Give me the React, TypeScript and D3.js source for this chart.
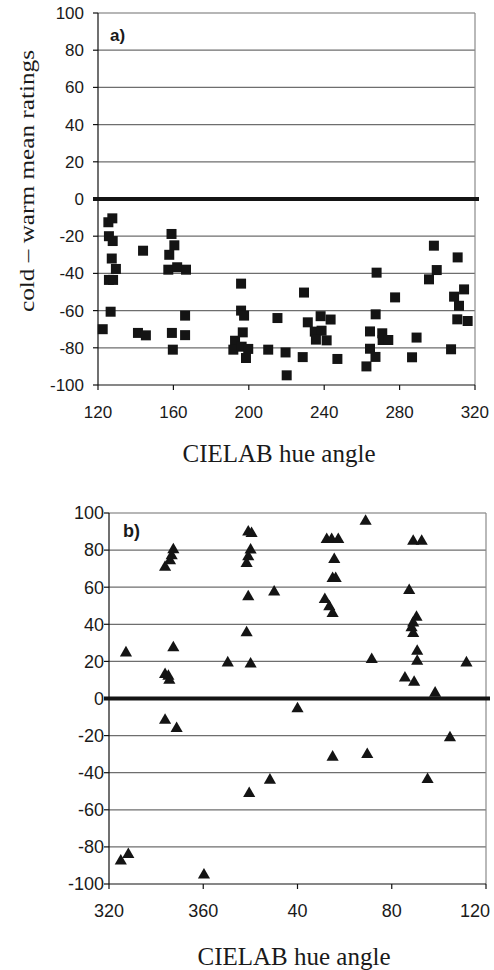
import React from "react";
import * as d3 from "d3";

// Panel a: CIELAB hue angle vs cold–warm mean rating (squares)
const hueA = [122.5,125.5,127.6,125.8,127.8,127.3,129.5,125.8,128,126.7,143.9,141.2,145.4,159,160.5,157.8,157.3,162,166.7,166.2,159.2,166.2,159.7,195.9,195.9,197.5,196.8,192.7,191.8,196.2,199.7,198.5,210.3,215.2,219.5,220.1,228.6,229.3,231.3,235,238.6,235.6,241.3,238.1,243.4,247,262.4,264.3,264.3,267.2,267.3,267.8,270.8,271,274,277.6,286.6,289,295.6,298.2,299.7,307.3,308.9,310.8,311.5,310.6,314.2,316.1];
const ratingA = [-70,-12.5,-10.4,-20,-22.6,-32,-37.6,-43.5,-43.5,-60.6,-27.8,-72,-73.3,-18.8,-24.9,-30,-38,-36.7,-38,-62.7,-72,-73.2,-81,-45.5,-60,-62.7,-71.7,-76.2,-81,-79.4,-80.6,-85.5,-81,-64,-82.5,-94.8,-85,-50.3,-66.3,-71.3,-70.8,-75.6,-76,-63,-64.8,-86,-90,-71.2,-80.5,-84.9,-62,-39.6,-72.2,-75.8,-75.8,-52.9,-85.1,-74.5,-43.2,-25.1,-38.2,-80.8,-52.5,-31.4,-57.4,-64.7,-48.6,-65.6];

// Panel b: hue angle unwrapped past 360 (400 = 40°, ...) (triangles)
const hueB = [327.2,325,328.2,343.8,345.9,346.6,347.3,347.3,343.8,345.2,345.6,343.8,348.7,360.3,370.4,379.1,380.5,380.1,379.1,378.4,379.1,378.4,380.1,379.5,388.3,390.1,400,411.6,412.4,414.5,417.3,415.6,414.9,416.2,413.5,414.9,414.9,428.9,431.5,429.6,445.6,447.4,449.1,452.7,450.5,449.1,448.4,449.1,450.8,450.8,449.5,455.2,458.4,464.7,471.7];
const ratingB = [24.6,-87.6,-84.1,70.7,74.3,77,80.2,27.3,12.9,12,9.9,-11.7,-16.2,-95.2,19.2,89.7,89,80,76.4,72.8,54.8,35.4,18.6,-51.2,-44,57.4,-5.5,53.4,85.7,85.7,85.7,74.9,64.7,64.7,49.4,45.8,-31.6,95.6,21,-30.2,11.1,58.2,84.8,84.8,43.8,40.7,38.1,35,25.5,20.1,8.8,-43.7,2.9,-21.2,19.2];

const yTicks = [100, 80, 60, 40, 20, 0, -20, -40, -60, -80, -100];
const xTicksA = [120, 160, 200, 240, 280, 320];
const xTickLabelsA = ["120", "160", "200", "240", "280", "320"];
const xTicksB = [320, 360, 400, 440, 480];
const xTickLabelsB = ["320", "360", "40", "80", "120"];

const yAxisTitle = "cold – warm mean ratings";
const xAxisTitle = "CIELAB hue angle";

type PanelProps = {
  label: string;
  hue: number[];
  rating: number[];
  xDomain: [number, number];
  xRange: [number, number];
  yRange: [number, number];
  xTicks: number[];
  xTickLabels: string[];
  symbol: d3.SymbolType;
  symbolSize: number;
  fontSize: number;
  yLabelX: number;
  titleY: number;
  titleX: number;
  labelPos: [number, number];
  maxLabelX: number;
};

function Panel(p: PanelProps) {
  const x = d3.scaleLinear().domain(p.xDomain).range(p.xRange);
  const y = d3.scaleLinear().domain([-100, 100]).range(p.yRange);
  const [x0, x1] = p.xRange;
  const [yb, yt] = p.yRange;
  const sym = d3.symbol().type(p.symbol).size(p.symbolSize)() as string;
  const font = "'Liberation Sans', Arial, sans-serif";
  const halfW = (s: string) => s.length * p.fontSize * 0.556 / 2;
  return (
    <g>
      {yTicks.filter((t) => t !== 0 && t !== -100).map((t) => (
        <line key={"g" + t} x1={x0} x2={x1} y1={y(t)} y2={y(t)} stroke="#6e6e6e" strokeWidth={1.2} />
      ))}
      <line x1={x1} x2={x1} y1={yt} y2={yb} stroke="#8a8a8a" strokeWidth={1.2} />
      <line x1={x0} x2={x0} y1={yt} y2={yb} stroke="#111" strokeWidth={1.2} />
      {yTicks.map((t) => (
        <g key={"yt" + t}>
          <line x1={x0 - 5} x2={x0} y1={y(t)} y2={y(t)} stroke="#111" strokeWidth={1.2} />
          <text x={p.yLabelX} y={y(t)} dy="0.35em" textAnchor="end" fontFamily={font} fontSize={p.fontSize} fill="#1a1a1a">
            {t}
          </text>
        </g>
      ))}
      <line x1={x0} x2={x1} y1={yb} y2={yb} stroke="#111" strokeWidth={1.2} />
      {p.xTicks.map((t, i) => {
        const lab = p.xTickLabels[i];
        const cx = Math.min(x(t), p.maxLabelX - halfW(lab));
        return (
          <g key={"xt" + t}>
            <line x1={x(t)} x2={x(t)} y1={yb} y2={yb + 5} stroke="#111" strokeWidth={1.2} />
            <text x={cx} y={yb + 33} textAnchor="middle" fontFamily={font} fontSize={p.fontSize} fill="#1a1a1a">
              {lab}
            </text>
          </g>
        );
      })}
      {p.hue.map((h, i) => (
        <path key={"p" + i} d={sym} transform={`translate(${x(h)},${y(p.rating[i])})`} fill="#141414" />
      ))}
      <line x1={x0 - 5} x2={x1 + 4} y1={y(0)} y2={y(0)} stroke="#141414" strokeWidth={4} />
      <text x={p.labelPos[0]} y={p.labelPos[1]} fontFamily={font} fontWeight="bold" fontSize={p.fontSize} fill="#1a1a1a">
        {p.label}
      </text>
      <text x={p.titleX} y={p.titleY} textAnchor="middle" fontFamily="'Liberation Serif', 'Times New Roman', serif" fontSize={25} fill="#1a1a1a">
        {xAxisTitle}
      </text>
    </g>
  );
}

export default function App() {
  return (
    <svg width={494} height={970} style={{ position: "absolute", left: 0, top: 0, background: "#fff" }}>
      <rect width={494} height={970} fill="#fff" />
      <Panel
        label="a)"
        hue={hueA}
        rating={ratingA}
        xDomain={[120, 320]}
        xRange={[98, 475]}
        yRange={[385, 13]}
        xTicks={xTicksA}
        xTickLabels={xTickLabelsA}
        symbol={d3.symbolSquare}
        symbolSize={100}
        fontSize={17}
        yLabelX={84}
        titleY={462}
        titleX={279}
        labelPos={[110, 41]}
        maxLabelX={489}
      />
      <Panel
        label="b)"
        hue={hueB}
        rating={ratingB}
        xDomain={[320, 480]}
        xRange={[109, 486]}
        yRange={[884, 513]}
        xTicks={xTicksB}
        xTickLabels={xTickLabelsB}
        symbol={d3.symbolTriangle}
        symbolSize={64}
        fontSize={18}
        yLabelX={104}
        titleY={965}
        titleX={294}
        labelPos={[123, 537]}
        maxLabelX={490}
      />
      <text
        transform="translate(34,181) rotate(-90)"
        textAnchor="middle"
        fontFamily="'Liberation Serif', 'Times New Roman', serif"
        fontSize={22}
        textLength={262}
        lengthAdjust="spacingAndGlyphs"
        fill="#1a1a1a"
      >
        {yAxisTitle}
      </text>
    </svg>
  );
}
